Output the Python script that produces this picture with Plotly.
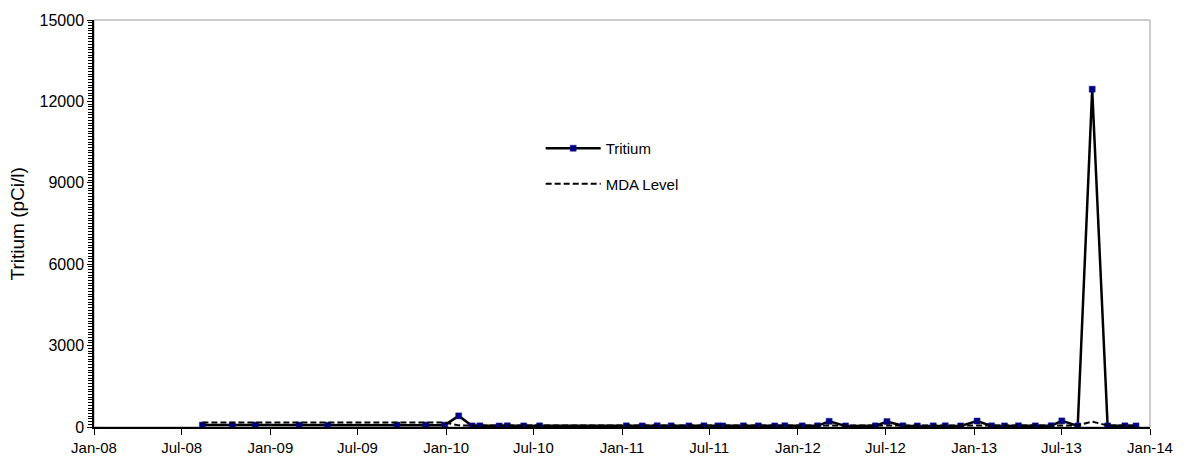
"""Tritium sampling results vs MDA level, 2008-2013 (Plotly)."""

import plotly.graph_objects as go

FONT = "Arial, Liberation Sans, sans-serif"

SAMPLE_DATES = [
    "2008-08-13", "2008-10-14", "2008-12-01", "2009-03-02", "2009-04-30",
    "2009-09-21", "2009-11-20", "2009-12-29", "2010-01-27", "2010-02-24",
    "2010-03-12", "2010-04-21", "2010-05-08", "2010-06-11", "2010-07-14",
    "2011-01-10", "2011-02-12", "2011-03-15", "2011-04-13", "2011-05-20",
    "2011-06-20", "2011-07-19", "2011-07-29", "2011-09-10", "2011-10-11",
    "2011-11-14", "2011-12-05", "2012-01-10", "2012-02-11", "2012-03-06",
    "2012-04-09", "2012-06-10", "2012-07-04", "2012-08-06", "2012-09-05",
    "2012-10-08", "2012-11-02", "2012-12-04", "2013-01-07", "2013-02-06",
    "2013-03-05", "2013-04-03", "2013-05-08", "2013-06-10", "2013-07-02",
    "2013-08-04", "2013-09-03", "2013-10-05", "2013-11-10", "2013-12-03",
]

TRITIUM = [
    70, 68, 72, 70, 66,
    70, 72, 68, 410, 40,
    42, 38, 45, 40, 42,
    44, 40, 46, 42, 40,
    45, 42, 40, 44, 42,
    40, 46, 42, 44, 210,
    40, 42, 200, 44, 40,
    42, 45, 40, 220, 42,
    40, 44, 42, 46, 225,
    40, 12450, 42, 44, 40,
]

MDA_LEVEL = [
    165, 165, 165, 165, 165,
    165, 165, 165, 60, 55,
    55, 55, 55, 55, 55,
    55, 55, 55, 55, 55,
    55, 55, 55, 55, 55,
    55, 55, 55, 55, 60,
    55, 55, 60, 55, 55,
    55, 55, 55, 60, 55,
    55, 55, 55, 55, 60,
    55, 200, 55, 55, 55,
]

Y_RANGE = [0, 15000]
MINOR_STEP = 100

fig = go.Figure()
# MDA on the overlaid y2 (same range) so that axis, with its dense ticks, gets drawn
fig.add_trace(go.Scatter(
    x=SAMPLE_DATES, y=MDA_LEVEL, name="MDA Level",
    mode="lines", yaxis="y2",
    line=dict(color="black", width=2, dash="6px,3px"),
    legendgroup="b", legendrank=2,
))
fig.add_trace(go.Scatter(
    x=SAMPLE_DATES, y=TRITIUM, name="Tritium",
    mode="lines+markers",
    line=dict(color="black", width=2.5),
    marker=dict(symbol="square", size=6, color="#000080",
                line=dict(color="#1a1a8c", width=0.5)),
    legendgroup="a", legendrank=1,
))

# grey frame on top/right; black axis lines drawn over it
fig.add_shape(type="rect", xref="paper", yref="paper", x0=0, y0=0, x1=1, y1=1,
              line=dict(color="#9a9a9a", width=1), layer="below")

fig.add_annotation(
    text="Tritium (pCi/l)", textangle=-90, showarrow=False,
    xref="paper", yref="paper", x=-0.072, y=0.5, xanchor="center", yanchor="middle",
    font=dict(family=FONT, size=19, color="black"),
)

# page body adds an 8px margin, so the figure is sized/margined to match
fig.update_layout(
    width=1175, height=451,
    margin=dict(l=86, r=33, t=12, b=32),
    paper_bgcolor="white", plot_bgcolor="white",
    font=dict(family=FONT, color="black"),
    showlegend=True,
    legend=dict(
        x=0.423, y=0.725, xanchor="left", yanchor="top",
        bgcolor="rgba(0,0,0,0)", font=dict(size=15),
        traceorder="grouped", tracegroupgap=13, itemwidth=55,
    ),
    xaxis=dict(
        type="date", range=["2008-01-01", "2014-01-01"],
        dtick="M6", tick0="2008-01-01", tickformat="%b-%y",
        ticks="outside", ticklen=6, tickcolor="black",
        showline=True, linecolor="black", linewidth=1.5,
        showgrid=False, zeroline=False, automargin=False,
        tickfont=dict(size=15),
    ),
    yaxis=dict(
        range=Y_RANGE, tick0=0, dtick=3000, tickformat="d",
        ticks="outside", ticklen=5, tickcolor="black",
        showline=True, linecolor="black", linewidth=1.5,
        showgrid=False, zeroline=False, automargin=False,
        tickfont=dict(size=16),
    ),
    # dense minor ticks along the value axis
    yaxis2=dict(
        overlaying="y", side="left", range=Y_RANGE, anchor="x",
        tickmode="array",
        tickvals=list(range(Y_RANGE[0], Y_RANGE[1] + 1, MINOR_STEP)),
        ticks="outside", ticklen=5, tickwidth=1, tickcolor="black",
        showticklabels=False, showline=False, showgrid=False,
        zeroline=False, automargin=False,
    ),
)

fig.write_html("out.html")
